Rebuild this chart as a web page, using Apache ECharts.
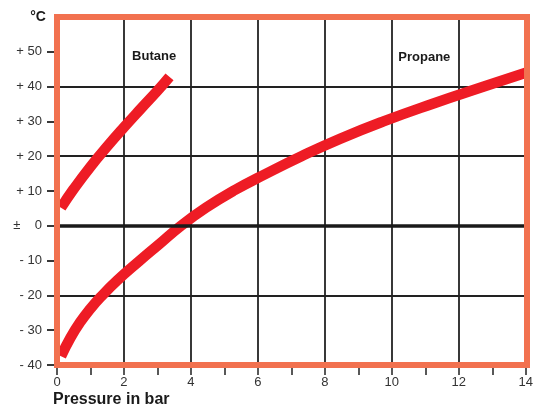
<!DOCTYPE html>
<html>
<head>
<meta charset="utf-8">
<script src="https://cdn.jsdelivr.net/npm/echarts@6/dist/echarts.min.js"></script>
<style>
html,body{margin:0;padding:0;background:#fff;}
#chart{width:536px;height:408px;}
</style>
</head>
<body>
<div id="chart"></div>
<script>
// Data (x: pressure in bar, y: temperature in °C)
var butanePressure = [0.12, 0.5, 1.0, 1.5, 2.0, 2.5, 3.0, 3.36];
var butaneTemp     = [5.2, 10.6, 17, 22.8, 28.3, 33.6, 38.8, 42.8];
var propanePressure = [0.12, 0.4, 0.7, 1.0, 1.3, 1.8, 2.45, 3.05, 3.7, 4.45, 5.3, 6.25, 7.3, 8.45, 9.75, 11.2, 12.75, 14.0];
var propaneTemp     = [-37.5, -32.2, -27.6, -23.8, -20.5, -15.7, -10.2, -5.3, 0, 5.2, 10.2, 15, 20, 25, 30, 35, 40, 44];
var yTickValues = [-40, -30, -20, -10, 0, 10, 20, 30, 40, 50];
var xLabelValues = [0, 2, 4, 6, 8, 10, 12, 14];
var seriesNames = ['Butane', 'Propane'];
var labelPos = { Butane: [2.9, 48.6], Propane: [10.97, 48.5] };

function zip(a, b) { return a.map(function (v, i) { return [v, b[i]]; }); }

var FONT = 'Liberation Sans';
var RED = '#ee1c25';
var BORDER = '#f2714f';
var GRID = { left: 57, right: 9, top: 17, bottom: 43 };

var chart = echarts.init(document.getElementById('chart'));

function yLabel(v) {
  if (v > 0) return '+ ' + v;
  if (v === 0) return '\u00b1    0';
  return '- ' + (-v);
}

var option = {
  animation: false,
  backgroundColor: '#fff',
  grid: { left: GRID.left, right: GRID.right, top: GRID.top, bottom: GRID.bottom, containLabel: false },
  xAxis: [
    {
      type: 'value', min: 0, max: 14, interval: 1,
      axisLine: { show: false, onZero: false },
      axisTick: { show: true, length: 10, lineStyle: { color: '#222', width: 1.5 } },
      axisLabel: {
        customValues: xLabelValues,
        margin: 11, fontFamily: FONT, fontSize: 13, color: '#333'
      },
      splitLine: { show: false }
    },
    {
      type: 'value', min: 0, max: 14, interval: 2, position: 'top',
      axisLine: { show: false, onZero: false }, axisTick: { show: false }, axisLabel: { show: false },
      splitLine: { show: true, lineStyle: { color: '#222', width: 1.8 } }
    }
  ],
  yAxis: [
    {
      type: 'value', min: -40, max: 60, interval: 10,
      axisLine: { show: false, onZero: false },
      axisTick: { show: true, customValues: yTickValues, length: 10, lineStyle: { color: '#222', width: 1.8 } },
      axisLabel: {
        customValues: yTickValues,
        formatter: yLabel,
        margin: 15, fontFamily: FONT, fontSize: 13, color: '#333'
      },
      splitLine: { show: false }
    },
    {
      type: 'value', min: -40, max: 60, interval: 20, position: 'right',
      axisLine: { show: false, onZero: false }, axisTick: { show: false }, axisLabel: { show: false },
      splitLine: { show: true, lineStyle: { color: '#222', width: 1.8 } }
    }
  ],
  series: [
    {
      name: 'zero', type: 'line', data: [], z: 1, silent: true,
      markLine: {
        silent: true, symbol: ['none', 'none'], label: { show: false },
        lineStyle: { color: '#1a1a1a', width: 3.6, type: 'solid' },
        data: [{ yAxis: 0 }]
      }
    },
    {
      name: seriesNames[0], type: 'line', smooth: 0.5, showSymbol: false, z: 3,
      data: zip(butanePressure, butaneTemp),
      lineStyle: { color: RED, width: 10.5, cap: 'butt' },
      markPoint: {
        symbol: 'circle', symbolSize: 0, silent: true,
        label: { show: true, position: 'inside', formatter: seriesNames[0], fontFamily: FONT, fontWeight: 'bold', fontSize: 13, color: '#1a1a1a' },
        data: [{ coord: labelPos.Butane }]
      }
    },
    {
      name: seriesNames[1], type: 'line', smooth: 0.5, showSymbol: false, z: 3,
      data: zip(propanePressure, propaneTemp),
      lineStyle: { color: RED, width: 10.5, cap: 'butt' },
      markPoint: {
        symbol: 'circle', symbolSize: 0, silent: true,
        label: { show: true, position: 'inside', formatter: seriesNames[1], fontFamily: FONT, fontWeight: 'bold', fontSize: 13, color: '#1a1a1a' },
        data: [{ coord: labelPos.Propane }]
      }
    }
  ],
  graphic: [
    {
      type: 'rect', z: 100, silent: true,
      shape: { x: GRID.left, y: GRID.top, width: 536 - GRID.left - GRID.right, height: 408 - GRID.top - GRID.bottom },
      style: { fill: 'none', stroke: BORDER, lineWidth: 6 }
    },
    {
      type: 'text', x: 38, y: 17, z: 100,
      style: { text: '\u00b0C', fontFamily: FONT, fontWeight: 'bold', fontSize: 14, fill: '#1a1a1a', align: 'center', verticalAlign: 'middle' }
    },
    {
      type: 'text', x: 53, y: 400, z: 100,
      style: { text: 'Pressure in bar', fontFamily: FONT, fontWeight: 'bold', fontSize: 16, fill: '#1a1a1a', align: 'left', verticalAlign: 'middle' }
    }
  ]
};
chart.setOption(option);
</script>
</body>
</html>
